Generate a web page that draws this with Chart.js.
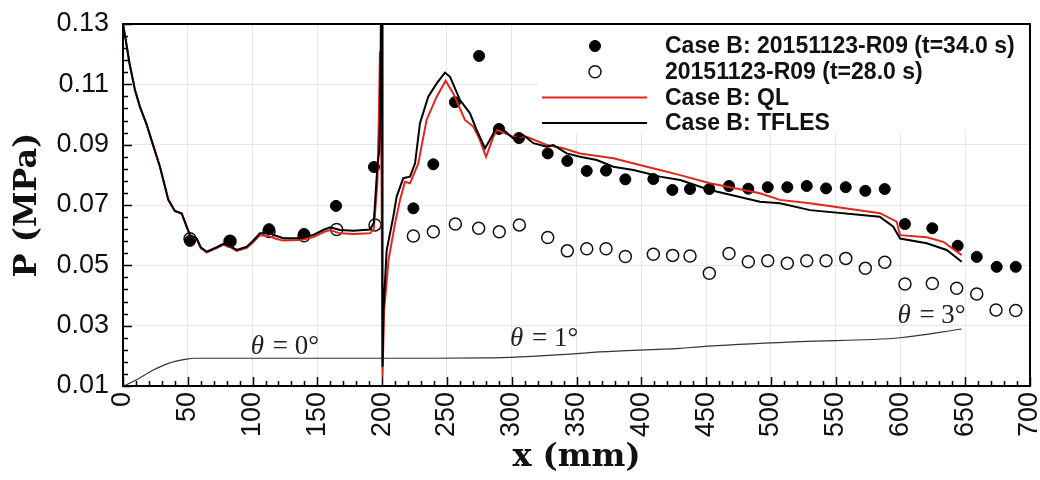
<!DOCTYPE html>
<html>
<head>
<meta charset="utf-8">
<script src="https://cdn.jsdelivr.net/npm/chart.js@4/dist/chart.umd.min.js"></script>
<style>
  html, body { margin: 0; padding: 0; background: #fff; }
</style>
</head>
<body>
<canvas id="pChart" width="1040" height="480"></canvas>
<script>
// experiment, t = 34.0 s
const exp34X = [51.7, 82.6, 112.7, 139.7, 164.4, 193.7, 224.1, 239.5, 256.2, 274.8, 290.2, 305.6,
    327.8, 342.9, 357.9, 372.8, 387.7, 409.3, 424.0, 437.6, 452.5, 467.7, 482.6, 497.6,
    512.7, 527.7, 542.6, 557.8, 572.9, 587.9, 603.5, 624.6, 644.2, 658.9, 674.3, 689.0];
const exp34P = [0.0581, 0.0581, 0.0620, 0.0604, 0.0697, 0.0826, 0.0689, 0.0835, 0.1041, 0.1194, 0.0952, 0.0922,
    0.0871, 0.0846, 0.0813, 0.0814, 0.0785, 0.0786, 0.0750, 0.0753, 0.0753, 0.0763, 0.0754, 0.0759,
    0.0759, 0.0763, 0.0755, 0.0759, 0.0747, 0.0753, 0.0637, 0.0623, 0.0565, 0.0528, 0.0495, 0.0495];

// experiment, t = 28.0 s
const exp28X = [51.7, 82.6, 112.7, 139.7, 164.9, 194.5, 224.1, 239.5, 256.5, 274.5, 290.4, 305.9,
    327.8, 342.9, 357.9, 372.8, 387.7, 409.3, 424.2, 437.6, 452.5, 467.7, 482.6, 497.6,
    512.7, 527.7, 542.6, 557.8, 572.9, 587.9, 603.5, 624.6, 643.4, 658.9, 673.8, 689.0];
const exp28P = [0.0588, 0.0580, 0.0612, 0.0598, 0.0619, 0.0634, 0.0597, 0.0611, 0.0637, 0.0623, 0.0611, 0.0634,
    0.0592, 0.0548, 0.0555, 0.0555, 0.0529, 0.0537, 0.0533, 0.0531, 0.0474, 0.0539, 0.0512, 0.0515,
    0.0507, 0.0515, 0.0515, 0.0523, 0.0490, 0.0510, 0.0438, 0.0440, 0.0424, 0.0405, 0.0352, 0.0350];

// simulation, QL
const qlX = [0, 2, 5, 9.3, 13, 18, 22, 28.5, 35, 40, 45.3, 51.7, 56.9, 60, 64.6, 72.3, 77.4, 82, 87.8, 95.5,
    100, 105.7, 113.4, 118, 123.7, 136.6, 146.9, 155, 159.8, 167.5, 177.7, 190.6, 193.5, 194.5, 196.3,
    197.5, 198.3, 199.5, 200.3, 201.5, 205, 210, 213.8, 217.6, 221.5, 227.9, 234.3, 242.1, 249, 254.9,
    263.9, 270.3, 275, 280.2, 285.8, 288.4, 301.2, 311.6, 327, 339.8, 352.7, 378.4, 404.2, 414.4,
    430, 453, 491.6, 507, 530.2, 584.2, 597.1, 599.7, 620.3, 633.1, 647.3];
const qlP = [0.13, 0.125, 0.117, 0.108, 0.1026, 0.097, 0.0915, 0.0827, 0.0717, 0.068, 0.0672, 0.0598, 0.0587, 0.0557, 0.0543, 0.0557, 0.0568, 0.0562, 0.0548, 0.0558,
    0.0575, 0.0600, 0.0596, 0.0588, 0.0582, 0.0584, 0.0594, 0.0610, 0.0617, 0.0606, 0.0604, 0.0606, 0.0620, 0.0672, 0.0772,
    0.100, 0.121, 0.080, 0.013, 0.035, 0.052, 0.064, 0.0717, 0.0777, 0.0772, 0.0838, 0.0982, 0.1059, 0.1112, 0.1070,
    0.0982, 0.0960, 0.0920, 0.0860, 0.0926, 0.0949, 0.0926, 0.0926, 0.0899, 0.0888, 0.0871, 0.0855, 0.0827, 0.0816,
    0.0799, 0.0772, 0.0739, 0.0717, 0.0706, 0.0673, 0.0645, 0.0600, 0.0593, 0.0578, 0.0534];

// simulation, TFLES
const tflesX = [0, 2, 5, 9.3, 13, 18, 22, 28.5, 35, 40, 45.3, 51.7, 56.9, 60, 64.6, 72.3, 77.4, 82, 87.8, 95.5,
    100, 105.7, 113.4, 118, 123.7, 136.6, 146.9, 155, 159.8, 167.5, 177.7, 190.6, 193.5, 194.5, 196.3,
    197.8, 198.5, 199.2, 200.0, 200.3, 201, 203.5, 208.6, 211.2, 216.3, 221.5, 225.4, 229.2, 235.6, 242.1,
    248.5, 252.4, 260.1, 267.8, 272.9, 279.4, 284.5, 288.4, 293.5, 301.2, 308.9, 316.7, 327, 332.1, 342.4,
    352.7, 365.6, 378.4, 393.9, 404.2, 414.4, 430, 453, 491.6, 507, 530.2, 584, 594.5, 599.7, 620.3, 635.7, 647.3];
const tflesP = [0.13, 0.125, 0.117, 0.108, 0.1026, 0.097, 0.0915, 0.0827, 0.0717, 0.068, 0.0672, 0.0600, 0.0589, 0.0560, 0.0545, 0.0560, 0.0571, 0.0565, 0.0551, 0.0562,
    0.0580, 0.0606, 0.0606, 0.0598, 0.0590, 0.0590, 0.0601, 0.0618, 0.0626, 0.0617, 0.0615, 0.0619, 0.0640, 0.0706, 0.0827,
    0.0882, 0.100, 0.140, 0.140, 0.0164, 0.035, 0.055, 0.0661, 0.0728, 0.0789, 0.0794, 0.0838, 0.0971, 0.1059, 0.1103,
    0.1139, 0.1125, 0.1048, 0.1004, 0.0949, 0.0888, 0.0926, 0.0960, 0.0949, 0.0921, 0.0932, 0.0905, 0.0893, 0.0899, 0.0871,
    0.0860, 0.0849, 0.0827, 0.0816, 0.0805, 0.0794, 0.0783, 0.0750, 0.0711, 0.0706, 0.0683, 0.0661, 0.0628, 0.0589, 0.0573, 0.0551, 0.0512];

// wall angle profile
const wallX = [0, 3, 10, 23.4, 35, 49, 55, 150, 229, 280, 352.7, 368, 430, 445, 522.5, 599.7, 647.3];
const wallP = [0.01, 0.0105, 0.012, 0.0153, 0.0175, 0.0189, 0.0192, 0.0192, 0.0192, 0.0193, 0.0208, 0.0213, 0.0225, 0.0230, 0.0247, 0.0260, 0.0289];

// angle notes
const noteText = ['0°', '1°', '3°'];
const noteX = [125, 325, 624];
const noteY = [0.0206, 0.0233, 0.0309];

// tick labels
const xTicks = [0, 50, 100, 150, 200, 250, 300, 350, 400, 450, 500, 550, 600, 650, 700];
const yTicks = [0.01, 0.03, 0.05, 0.07, 0.09, 0.11, 0.13];

function pts(xs, ys) {
    return xs.map((x, i) => ({ x: x, y: ys[i] }));
}

// 범례 + 각도 표시
const notePlugin = {
    id: 'notes',
    afterDatasetsDraw(chart) {
        const ctx = chart.ctx;
        const xs = chart.scales.x, ys = chart.scales.y;
        ctx.save();
        ctx.fillStyle = '#222';
        ctx.textBaseline = 'alphabetic';
        noteText.forEach((t, i) => {
            const a = 'θ', b = ' = ' + t;
            ctx.font = 'italic 27px "Liberation Serif"';
            const wa = ctx.measureText(a).width;
            ctx.font = '27px "Liberation Serif"';
            const wb = ctx.measureText(b).width;
            let px = xs.getPixelForValue(noteX[i]) - (wa + wb + 2) / 2;
            const py = ys.getPixelForValue(noteY[i]);
            ctx.font = 'italic 27px "Liberation Serif"';
            ctx.fillText(a, px, py);
            ctx.font = '27px "Liberation Serif"';
            ctx.fillText(b, px + wa + 2, py);
        });

        // legend box
        const area = chart.chartArea;
        ctx.fillStyle = '#fff';
        ctx.fillRect(538, area.top + 1, area.right - 539, 109);
        const items = chart.data.datasets.filter(d => d.label);
        ctx.font = 'bold 23px "Liberation Sans"';
        ctx.textBaseline = 'middle';
        items.forEach((d, i) => {
            const y = 46 + i * 25.7;
            if (d.showLine === false) {
                ctx.beginPath();
                ctx.arc(595, y, d.pointRadius, 0, Math.PI * 2);
                ctx.lineWidth = d.borderWidth;
                ctx.strokeStyle = d.borderColor;
                if (d.backgroundColor !== 'transparent') {
                    ctx.fillStyle = d.backgroundColor;
                    ctx.fill();
                }
                ctx.stroke();
            } else {
                ctx.beginPath();
                ctx.moveTo(542, y);
                ctx.lineTo(647, y);
                ctx.lineWidth = d.borderWidth;
                ctx.strokeStyle = d.borderColor;
                ctx.stroke();
            }
            ctx.fillStyle = '#111';
            ctx.fillText(d.label, 665, y + 1);
        });
        ctx.restore();
    },
    afterDraw(chart) {
        const ctx = chart.ctx;
        const a = chart.chartArea;
        const xs = chart.scales.x, ys = chart.scales.y;
        ctx.save();
        ctx.strokeStyle = '#000';
        ctx.lineWidth = 1.5;
        // inward ticks
        ctx.beginPath();
        for (let v = 0; v <= 700; v += 10) {
            const px = Math.round(xs.getPixelForValue(v)) + 0.5;
            const len = v % 50 === 0 ? 9 : 5;
            ctx.moveTo(px, a.bottom);
            ctx.lineTo(px, a.bottom - len);
        }
        for (let k = 0; k <= 30; k++) {
            const v = 0.01 + k * 0.004;
            const py = Math.round(ys.getPixelForValue(v)) + 0.5;
            const len = k % 5 === 0 ? 9 : 5;
            ctx.moveTo(a.left, py);
            ctx.lineTo(a.left + len, py);
        }
        ctx.stroke();
        ctx.lineWidth = 2;
        ctx.strokeRect(a.left, a.top, a.right - a.left, a.bottom - a.top);
        ctx.restore();
    }
};

const ctx = document.getElementById('pChart').getContext('2d');
window.pChart = new Chart(ctx, {
    type: 'scatter',
    data: {
        datasets: [
            {
                label: 'Case B: 20151123-R09 (t=34.0 s)',
                data: pts(exp34X, exp34P),
                showLine: false,
                pointRadius: 5.5,
                pointHoverRadius: 5.5,
                backgroundColor: '#000',
                borderColor: '#000',
                borderWidth: 1,
                order: 4
            },
            {
                label: '20151123-R09 (t=28.0 s)',
                data: pts(exp28X, exp28P),
                showLine: false,
                pointRadius: 6,
                pointHoverRadius: 6,
                backgroundColor: 'transparent',
                borderColor: '#111',
                borderWidth: 1.5,
                order: 5
            },
            {
                label: 'Case B: QL',
                data: pts(qlX, qlP),
                showLine: true,
                pointRadius: 0,
                borderColor: '#e3261c',
                borderWidth: 2,
                tension: 0,
                order: 2
            },
            {
                label: 'Case B: TFLES',
                data: pts(tflesX, tflesP),
                showLine: true,
                pointRadius: 0,
                borderColor: '#000',
                borderWidth: 2,
                tension: 0,
                order: 1
            },
            {
                label: '',
                data: pts(wallX, wallP),
                showLine: true,
                pointRadius: 0,
                borderColor: '#333',
                borderWidth: 1.2,
                cubicInterpolationMode: 'monotone',
                order: 3
            }
        ]
    },
    options: {
        responsive: false,
        animation: false,
        layout: { padding: { top: 24, right: 10, left: 0, bottom: 0 } },
        plugins: {
            legend: { display: false },
            tooltip: { enabled: false }
        },
        scales: {
            x: {
                type: 'linear',
                min: 0,
                max: 700,
                afterBuildTicks: s => { s.ticks = xTicks.map(v => ({ value: v })); },
                afterFit: s => { s.height = 94; s.paddingLeft = 0; s.paddingRight = 0; },
                grid: { color: '#e6e6e6', drawTicks: false },
                border: { display: false },
                ticks: {
                    autoSkip: false,
                    minRotation: 90,
                    maxRotation: 90,
                    padding: 6,
                    color: '#111',
                    font: { family: 'Liberation Sans', size: 27 },
                    callback: v => String(v)
                },
                title: {
                    display: true,
                    text: 'x (mm)',
                    color: '#111',
                    font: { family: 'DejaVu Serif', weight: 'bold', size: 32 },
                    padding: { top: 0, bottom: 3 }
                }
            },
            y: {
                min: 0.01,
                max: 0.13,
                afterBuildTicks: s => { s.ticks = yTicks.map(v => ({ value: v })); },
                afterFit: s => { s.width = 123; s.paddingTop = 0; s.paddingBottom = 0; },
                grid: { color: '#e6e6e6', drawTicks: false },
                border: { display: false },
                ticks: {
                    padding: 14,
                    color: '#111',
                    font: { family: 'Liberation Sans', size: 27 },
                    callback: v => v.toFixed(2)
                },
                title: {
                    display: true,
                    text: 'P (MPa)',
                    color: '#111',
                    font: { family: 'DejaVu Serif', weight: 'bold', size: 32 },
                    padding: { top: 8, bottom: 0 }
                }
            }
        }
    },
    plugins: [notePlugin]
});
</script>
</body>
</html>
